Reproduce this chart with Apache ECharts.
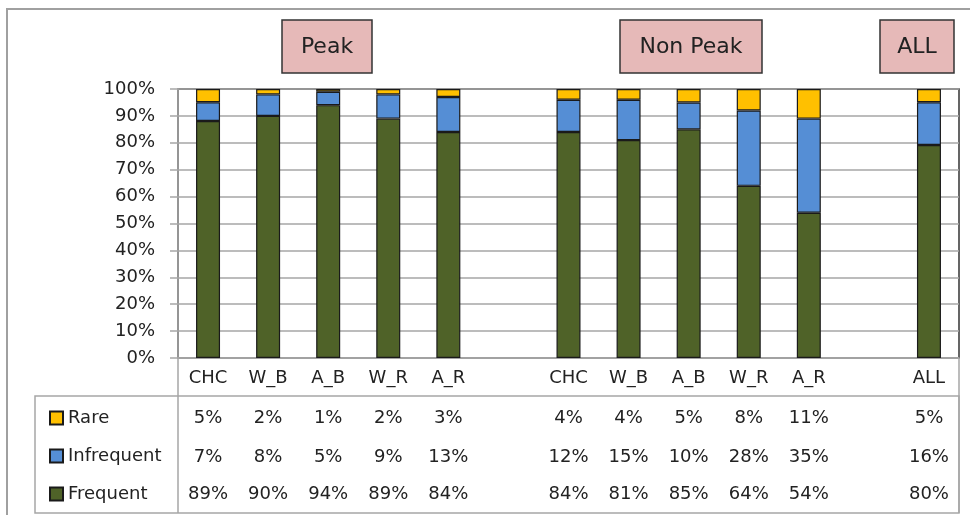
<!DOCTYPE html>
<html>
<head>
<meta charset="utf-8">
<script src="https://cdn.jsdelivr.net/npm/echarts@6/dist/echarts.min.js"></script>
<style>
  html, body { margin: 0; padding: 0; background: #fff; }
  #chart { width: 970px; height: 515px; }
</style>
</head>
<body>
<div id="chart"></div>
<script>
// category labels (blank slots separate the groups)
const categories = ['CHC', 'W_B', 'A_B', 'W_R', 'A_R', '', 'CHC', 'W_B', 'A_B', 'W_R', 'A_R', '', 'ALL']
const keys = categories.map((c, i) => 'c' + i)

// values in %, as printed in the data table
const rare = [5, 2, 1, 2, 3, null, 4, 4, 5, 8, 11, null, 5]
const infrequent = [7, 8, 5, 9, 13, null, 12, 15, 10, 28, 35, null, 16]
const frequent = [89, 90, 94, 89, 84, null, 84, 81, 85, 64, 54, null, 80]

const groupLabels = ['Peak', 'Non Peak', 'ALL']
const yTicks = [0, 0.1, 0.2, 0.3, 0.4, 0.5, 0.6, 0.7, 0.8, 0.9, 1]

const colors = { Rare: '#FFC000', Infrequent: '#558ED5', Frequent: '#4F6228' }
const FONT = 'DejaVu Sans'
const FS = 18
const gridGray = '#a6a6a6'

// 100% stacked: each bar is normalised by its own total
const share = (arr) => arr.map((v, i) => {
  if (v == null) return null
  const total = rare[i] + infrequent[i] + frequent[i]
  return v / total
})

function barSeries(name, values) {
  return {
    name,
    type: 'bar',
    stack: 'total',
    barWidth: 24,
    data: share(values),
    itemStyle: { color: colors[name], borderColor: '#1a1a1a', borderWidth: 1.2 },
    emphasis: { disabled: true },
  }
}

function tableAxis(values, offset) {
  return {
    type: 'category',
    data: keys,
    position: 'bottom',
    offset,
    axisLine: { show: false },
    axisTick: { show: false },
    axisLabel: {
      interval: 0,
      margin: 11,
      fontSize: FS,
      color: '#222',
      formatter: (v, i) => (values[i] == null ? '' : values[i] + '%'),
    },
  }
}

function groupBox(x, w, label) {
  return {
    type: 'group',
    children: [
      {
        type: 'rect',
        shape: { x, y: 20, width: w, height: 53 },
        style: { fill: '#E6B9B8', stroke: '#333', lineWidth: 1.5 },
      },
      {
        type: 'text',
        x: x + w / 2,
        y: 47,
        style: {
          text: label,
          fontSize: 22,
          fontFamily: FONT,
          fill: '#222',
          align: 'center',
          verticalAlign: 'middle',
        },
      },
    ],
  }
}

const chart = echarts.init(document.getElementById('chart'))

chart.setOption({
  animation: false,
  textStyle: { fontFamily: FONT },
  grid: {
    left: 178,
    right: 11,
    top: 89,
    bottom: 157,
    show: true,
    borderColor: '#333',
    borderWidth: 1.5,
  },
  legend: {
    data: ['Rare', 'Infrequent', 'Frequent'],
    orient: 'vertical',
    left: 44,
    top: 404,
    icon: 'rect',
    itemWidth: 13,
    itemHeight: 13,
    itemGap: 20,
    selectedMode: false,
    textStyle: { fontSize: FS, color: '#222' },
  },
  xAxis: [
    {
      type: 'category',
      data: keys,
      axisLine: { lineStyle: { color: gridGray, width: 1.5 } },
      axisTick: { show: false },
      axisLabel: {
        interval: 0,
        margin: 11,
        fontSize: FS,
        color: '#222',
        formatter: (v, i) => categories[i],
      },
    },
    tableAxis(rare, 40),
    tableAxis(infrequent, 79),
    tableAxis(frequent, 116),
  ],
  yAxis: {
    type: 'value',
    min: yTicks[0],
    max: yTicks[yTicks.length - 1],
    interval: 0.1,
    axisLine: { show: true, lineStyle: { color: gridGray, width: 1.5 } },
    axisTick: { show: true, length: 8, lineStyle: { color: gridGray, width: 1.5 } },
    axisLabel: {
      fontSize: FS,
      color: '#222',
      margin: 23,
      formatter: (v) => Math.round(v * 100) + '%',
    },
    splitLine: { lineStyle: { color: gridGray, width: 1.5 } },
  },
  series: [
    barSeries('Frequent', frequent),
    barSeries('Infrequent', infrequent),
    barSeries('Rare', rare),
  ],
  graphic: [
    // outer chart frame (right/bottom run off the picture)
    {
      type: 'rect',
      shape: { x: 7, y: 9, width: 1000, height: 600 },
      style: { fill: null, stroke: '#a0a0a0', lineWidth: 2 },
      silent: true,
    },
    // data table frame
    {
      type: 'rect',
      shape: { x: 35, y: 396, width: 924, height: 117 },
      style: { fill: null, stroke: gridGray, lineWidth: 1.5 },
      silent: true,
    },
    {
      type: 'line',
      shape: { x1: 178, y1: 358, x2: 178, y2: 513 },
      style: { stroke: gridGray, lineWidth: 1.5 },
      silent: true,
    },
    {
      type: 'line',
      shape: { x1: 959, y1: 358, x2: 959, y2: 513 },
      style: { stroke: gridGray, lineWidth: 1.5 },
      silent: true,
    },
    groupBox(282, 90, groupLabels[0]),
    groupBox(620, 142, groupLabels[1]),
    groupBox(880, 74, groupLabels[2]),
  ],
})
</script>
</body>
</html>
